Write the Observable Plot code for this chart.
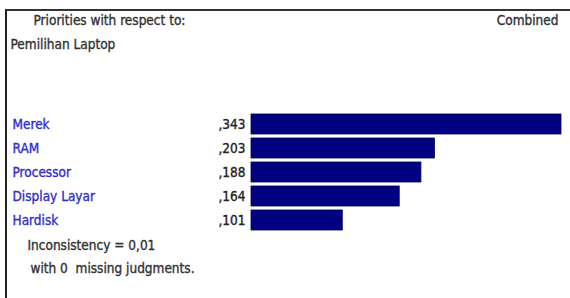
<!DOCTYPE html>
<html>
<head>
<meta charset="utf-8">
<script src="https://cdn.jsdelivr.net/npm/d3@7"></script>
<script src="https://cdn.jsdelivr.net/npm/@observablehq/plot@0.6"></script>
<style>
  html, body { margin: 0; padding: 0; background: #fff; overflow: hidden; }
  #wrap { position: relative; width: 570px; height: 298px; }
  #wrap svg { display: block; }
  #border { position: absolute; left: 5px; top: 9px; width: 565px; height: 289px; box-sizing: border-box;
            border-left: 2px solid #222; border-top: 2px solid #333; border-right: 0; border-bottom: 0;
            pointer-events: none; }
</style>
</head>
<body>
<div id="wrap"><div id="border"></div></div>
<script>
const categories = ["Merek", "RAM", "Processor", "Display Layar", "Hardisk"];
const values = [0.343, 0.203, 0.188, 0.164, 0.101];
const headerLeft = "Priorities with respect to:";
const headerGoal = "Pemilihan Laptop";
const headerRight = "Combined";
const inconsistency = 0.01;
const missingJudgments = 0;

const data = categories.map((name, i) => ({ name, value: values[i] }));
const fmtVal = v => d3.format(".3f")(v).replace(/^0\./, ",");
const fmtInc = v => d3.format(".2f")(v).replace(".", ",");

const font = "'DejaVu Sans Condensed', 'DejaVu Sans', sans-serif";
const fs = 13.5;
const sw = 0.35;

const chart = Plot.plot({
  width: 570,
  height: 298,
  margin: 0,
  style: { fontFamily: font, fontSize: fs + "px", background: "#fff" },
  x: { domain: [0, 0.343], range: [251, 561], axis: null },
  y: { domain: categories, range: [109.1, 235.7], padding: 0.146, axis: null },
  marks: [
    Plot.barX(data, { x: "value", y: "name", fill: "#000080", stroke: "#00005a", strokeWidth: 0.8 }),
    Plot.text(data, { x: 0, y: "name", text: d => fmtVal(d.value), textAnchor: "end", dx: -6, fill: "#222", stroke: "#222", strokeWidth: sw, fontSize: fs }),
    Plot.text(data, { y: "name", text: "name", frameAnchor: "left", textAnchor: "start", dx: 12, fill: "#2f2fcc", stroke: "#2f2fcc", strokeWidth: sw, fontSize: fs }),
    Plot.text([headerLeft], { frameAnchor: "top-left", textAnchor: "start", lineAnchor: "middle", dx: 33, dy: 20, fill: "#333", stroke: "#333", strokeWidth: sw, fontSize: fs }),
    Plot.text([headerGoal], { frameAnchor: "top-left", textAnchor: "start", lineAnchor: "middle", dx: 10, dy: 44, fill: "#333", stroke: "#333", strokeWidth: sw, fontSize: fs }),
    Plot.text([headerRight], { frameAnchor: "top-right", textAnchor: "end", lineAnchor: "middle", dx: -12, dy: 20, fill: "#333", stroke: "#333", strokeWidth: sw, fontSize: fs }),
    Plot.text([`Inconsistency = ${fmtInc(inconsistency)}`], { frameAnchor: "top-left", textAnchor: "start", lineAnchor: "middle", dx: 27, dy: 245, fill: "#333", stroke: "#333", strokeWidth: sw, fontSize: fs }),
    Plot.text([`with ${missingJudgments}  missing judgments.`], { frameAnchor: "top-left", textAnchor: "start", lineAnchor: "middle", dx: 30, dy: 268, fill: "#333", stroke: "#333", strokeWidth: sw, fontSize: fs })
  ]
});
document.getElementById("wrap").prepend(chart);
</script>
</body>
</html>
